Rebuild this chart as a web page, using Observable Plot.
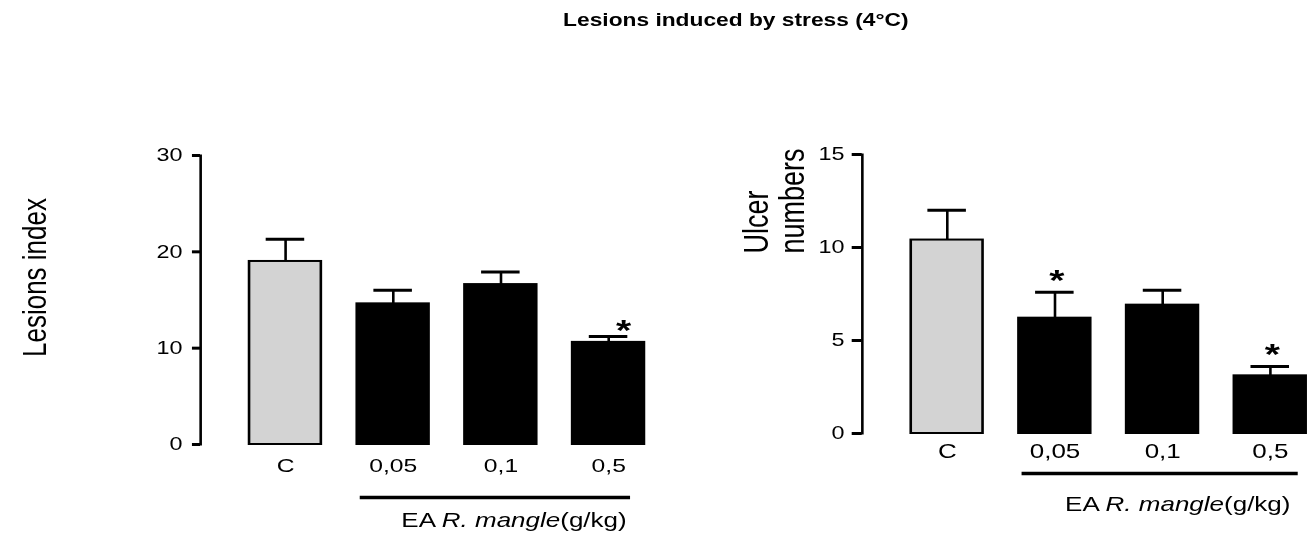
<!DOCTYPE html>
<html>
<head>
<meta charset="utf-8">
<script src="https://cdn.jsdelivr.net/npm/d3@7"></script>
<script src="https://cdn.jsdelivr.net/npm/@observablehq/plot@0.6"></script>
<style>
  html, body { margin: 0; padding: 0; background: white; overflow: hidden; }
  #wrap { position: relative; width: 1009.23px; height: 544px; transform: scaleX(1.3); transform-origin: 0 0; }
  #title { position: absolute; left: 0; top: 10px; width: 1132px; text-align: center; font: bold 17.5px/20px "Liberation Sans", Arial, sans-serif; color: black; z-index: 2; }
  #left { position: absolute; left: 0; top: 0; width: 509px; height: 544px; }
  #right { position: absolute; left: 509.2px; top: 0; width: 500px; height: 544px; }
</style>
</head>
<body>
<div id="wrap">
  <div id="title"></div>
  <div id="left"></div>
  <div id="right"></div>
</div>
<script>
const title = "Lesions induced by stress (4°C)";
const categories = ["C", "0,05", "0,1", "0,5"];
const treatmentLabel = "EA R. mangle(g/kg)";

const lesionsLabel = "Lesions index";
const lesionsIndex = [19.0, 14.6, 16.6, 10.6];
const lesionsSem = [2.3, 1.4, 1.3, 0.6];
const lesionsSig = ["", "", "", "*"];
const lesionsTicks = [0, 10, 20, 30];

const ulcerLabel = "Ulcer\nnumbers";
const ulcerNumbers = [10.4, 6.2, 6.9, 3.1];
const ulcerSem = [1.6, 1.4, 0.8, 0.5];
const ulcerSig = ["", "*", "", "*"];
const ulcerTicks = [0, 5, 10, 15];

document.getElementById("title").textContent = title;

function panel(o) {
  const data = categories.map((c, i) => ({cat: c, v: o.values[i], e: o.sems[i], sig: o.sigs[i]}));
  const plot = Plot.plot({
    width: o.width,
    height: 544,
    marginLeft: 153.85,
    marginRight: 0,
    marginTop: o.marginTop,
    marginBottom: o.marginBottom,
    x: {domain: categories, range: [190.77, 496.15], paddingInner: 0.314, paddingOuter: 0, round: false},
    y: {domain: [0, o.ticks[o.ticks.length - 1]]},
    color: {type: "identity"},
    style: {fontFamily: "'Liberation Sans', Arial, sans-serif", fontSize: "18px", color: "black", background: "transparent", overflow: "visible", maxWidth: "none"},
    marks: [
      Plot.barY(data, {x: "cat", y: "v", fill: d => d.cat === categories[0] ? "#d3d3d3" : "black", stroke: "black", strokeWidth: 2, insetLeft: 0.8, insetRight: 0.8}),
      Plot.ruleX(data, {x: "cat", y1: "v", y2: d => d.v + d.e, strokeWidth: 2, stroke: "black"}),
      Plot.tickY(data, {x: "cat", y: d => d.v + d.e, strokeWidth: 3, stroke: "black", insetLeft: 13.6, insetRight: 13.6}),
      Plot.text(data.filter(d => d.sig), {x: "cat", y: d => d.v + d.e, text: "sig", fontSize: 30, fontWeight: "bold", lineAnchor: "bottom", dx: o.starDx, dy: o.starDy, fill: "black"}),
      Plot.frame({anchor: "left", strokeWidth: 2, stroke: "black"}),
      Plot.axisY({ticks: o.ticks, tickSize: o.tickSize, tickPadding: o.tickPadding, strokeWidth: 3, fontSize: 18, label: null}),
      Plot.axisX({tickSize: 0, tickPadding: o.xPad, fontSize: o.xFont, label: null}),
      Plot.ruleY([0], {x1: () => categories[1], x2: () => categories[3], dy: o.underDy, strokeWidth: 3.3, stroke: "black", insetLeft: o.underInsetL, insetRight: o.underInsetR}),
      Plot.text([treatmentLabel], {x: () => categories[2], y: () => 0, text: d => d, fontSize: 20, lineAnchor: "middle", dx: o.eaDx, dy: o.eaDy, fill: "black"}),
      Plot.text([o.yLabel], {frameAnchor: "left", text: d => d, rotate: -90, fontSize: o.yLabelFont, textAnchor: o.yLabelAnchor, lineAnchor: "middle", lineHeight: 1, dx: o.yLabelDx, dy: o.yLabelDy, fill: "black"})
    ]
  });
  plot.querySelectorAll("text").forEach(t => {
    if (t.textContent === treatmentLabel) {
      t.textContent = "";
      const parts = [["EA ", "normal"], ["R. mangle", "italic"], ["(g/kg)", "normal"]];
      for (const [s, st] of parts) {
        const ts = document.createElementNS("http://www.w3.org/2000/svg", "tspan");
        ts.setAttribute("font-style", st);
        ts.textContent = s;
        t.appendChild(ts);
      }
    }
  });
  return plot;
}

document.getElementById("left").appendChild(panel({
  values: lesionsIndex, sems: lesionsSem, sigs: lesionsSig, ticks: lesionsTicks,
  width: 509, marginTop: 155, marginBottom: 100,
  tickSize: 6.2, tickPadding: 7.7, xPad: 14, xFont: 19,
  starDx: 11.5, starDy: 3,
  underDy: 53, underInsetL: 3.1, underInsetR: 11.5,
  eaDx: 10, eaDy: 76,
  yLabel: lesionsLabel, yLabelFont: 26, yLabelAnchor: "middle", yLabelDx: -127, yLabelDy: -22.5
}));

document.getElementById("right").appendChild(panel({
  values: ulcerNumbers, sems: ulcerSem, sigs: ulcerSig, ticks: ulcerTicks,
  width: 500, marginTop: 154, marginBottom: 111,
  tickSize: 7.7, tickPadding: 6, xPad: 10, xFont: 20,
  starDx: 1.5, starDy: -2.5,
  underDy: 40, underInsetL: 3.2, underInsetR: 6.9,
  eaDx: 11.6, eaDy: 71,
  yLabel: ulcerLabel, yLabelFont: 27, yLabelAnchor: "start", yLabelDx: -67.4, yLabelDy: -40.5
}));
</script>
</body>
</html>
